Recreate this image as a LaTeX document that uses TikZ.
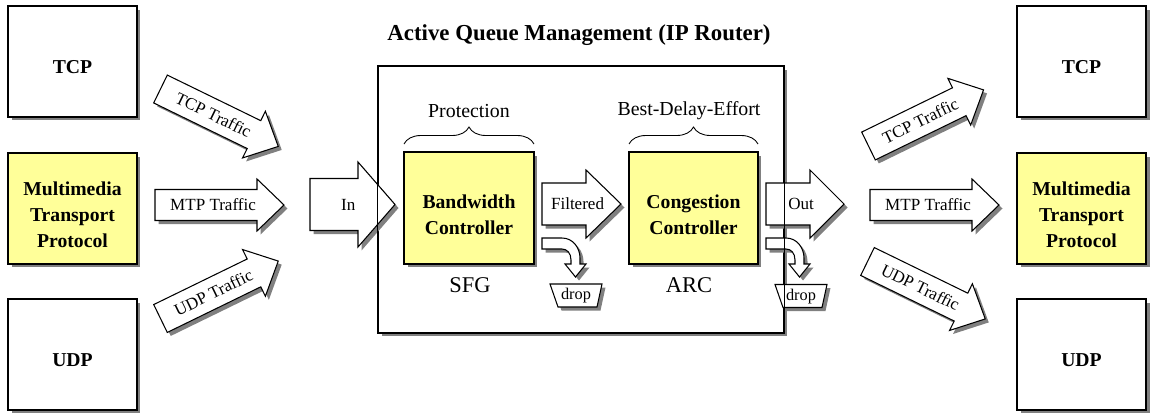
\documentclass[tikz,border=0pt]{standalone}
\usepackage{fontspec}
\setmainfont{Liberation Serif}
\usetikzlibrary{shadows,decorations.pathreplacing}

\definecolor{ctrlyellow}{RGB}{255,255,153}

\tikzset{
  shade/.style={drop shadow={shadow xshift=0.07cm, shadow yshift=-0.07cm, fill=black!50, opacity=1}},
  protobox/.style={draw, line width=0.75pt, fill=white, shade, minimum width=2.58cm, minimum height=2.22cm, inner sep=0pt},
  ctrlbox/.style={protobox, fill=ctrlyellow},
  boxtext/.style={font=\fontsize{11.2}{14.8}\selectfont\bfseries, align=center, inner sep=0pt},
  arrowshape/.style={draw, line width=0.6pt, fill=white, line join=miter, shade},
  arrowtext/.style={font=\fontsize{9.7}{11}\selectfont, inner sep=0pt},
  bracetext/.style={font=\fontsize{11.3}{13}\selectfont, inner sep=0pt},
  algtext/.style={font=\fontsize{12.8}{15}\selectfont, inner sep=0pt},
  droptext/.style={font=\fontsize{9.3}{11}\selectfont, inner sep=0pt},
  pics/blockarrow/.style n args={5}{code={
    \draw[arrowshape] (0,{-#2/2}) -- ({#1-#4},{-#2/2}) -- ({#1-#4},{-#3/2}) -- (#1,0)
      -- ({#1-#4},{#3/2}) -- ({#1-#4},{#2/2}) -- (0,{#2/2}) -- cycle;
    \node[arrowtext, transform shape] (-text) at ({0.45*#1},0) {#5};
  }},
  pics/droparrow/.style={code={
    \draw[arrowshape] (0,0) -- (20,0) .. controls (31,0) and (38,10) .. (38,20) -- (38,26)
      -- (44,26) -- (33.5,39) -- (23,26) -- (29,26) -- (29,22)
      .. controls (29,15) and (25,11) .. (20,11) -- (0,11) -- cycle;
  }},
  pics/dropbin/.style={code={
    \draw[arrowshape] (-26,-11.5) -- (26,-11.5) -- (21,11.5) -- (-18,11.5) -- cycle;
    \node[droptext] (-text) at (0,0.5) {drop};
  }},
}

\begin{document}
\begin{tikzpicture}[x=0.02cm, y=-0.02cm]
  \useasboundingbox (0,0) rectangle (1153,413);

  % sources
  \node[protobox] (tcpL) at (72.5,61.5) {};
  \node[ctrlbox] (mtpL) at (72.5,208.5) {};
  \node[protobox] (udpL) at (72.5,354.5) {};
  \node[boxtext] (tcpLt) at ([yshift=-0.12cm]tcpL.center) {TCP};
  \node[boxtext] (mtpLt) at ([yshift=-0.12cm]mtpL.center) {Multimedia\\Transport\\Protocol};
  \node[boxtext] (udpLt) at ([yshift=-0.12cm]udpL.center) {UDP};

  % sinks
  \node[protobox] (tcpR) at (1081.5,61.5) {};
  \node[ctrlbox] (mtpR) at (1081.5,208.5) {};
  \node[protobox] (udpR) at (1081.5,354.5) {};
  \node[boxtext] (tcpRt) at ([yshift=-0.12cm]tcpR.center) {TCP};
  \node[boxtext] (mtpRt) at ([yshift=-0.12cm]mtpR.center) {Multimedia\\Transport\\Protocol};
  \node[boxtext] (udpRt) at ([yshift=-0.12cm]udpR.center) {UDP};

  % router
  \node[font=\fontsize{13}{15}\selectfont\bfseries, inner sep=0pt] (title) at (579,35) {Active Queue Management (IP Router)};
  \node[draw, line width=0.75pt, fill=white, shade, minimum width=8.12cm, minimum height=5.34cm, inner sep=0pt] (aqm) at (581,199.5) {};

  \node[ctrlbox, minimum width=2.6cm, minimum height=2.24cm] (sfg) at (469,208) {};
  \node[ctrlbox, minimum width=2.58cm, minimum height=2.24cm] (arc) at (693.5,208) {};
  \node[boxtext] (sfgt) at ([yshift=-0.14cm]sfg.center) {Bandwidth\\Controller};
  \node[boxtext] (arct) at ([yshift=-0.14cm]arc.center) {Congestion\\Controller};

  \draw[line width=0.5pt, decorate, decoration={brace, amplitude=0.34cm}] (404,144) -- (534,144);
  \draw[line width=0.5pt, decorate, decoration={brace, amplitude=0.34cm}] (629,144) -- (758,144);
  \node[bracetext] (prot) at (469,111) {Protection};
  \node[bracetext] (bde) at (689,111) {Best-Delay-Effort};
  \node[algtext] (sfgn) at (470,285) {SFG};
  \node[algtext] (arcn) at (689,285) {ARC};

  % traffic
  \pic[rotate=-26] (tcpin) at (160.5,89) {blockarrow={131}{31}{52}{27}{TCP Traffic}};
  \pic (mtpin) at (155,205) {blockarrow={129}{31}{52}{27}{MTP Traffic}};
  \pic[rotate=26] (udpin) at (160.5,318.5) {blockarrow={131}{31}{52}{27}{UDP Traffic}};

  \pic (in) at (310,204.5) {blockarrow={85}{52}{85}{37}{In}};
  \pic (filt) at (542,204) {blockarrow={79}{42}{68}{35}{Filtered}};
  \pic (out) at (766,204) {blockarrow={78}{42}{68}{34}{Out}};

  \pic[rotate=26] (tcpout) at (868.5,146) {blockarrow={128}{31}{52}{27}{TCP Traffic}};
  \pic (mtpout) at (870,205) {blockarrow={129}{31}{52}{27}{MTP Traffic}};
  \pic[rotate=-26] (udpout) at (867.5,261.5) {blockarrow={131}{31}{52}{27}{UDP Traffic}};

  % drops
  \pic (drop1) at (542,238) {droparrow};
  \pic (drop2) at (766,238) {droparrow};
  \pic (bin1) at (576,295.5) {dropbin};
  \pic (bin2) at (801,296) {dropbin};

  \draw[line width=0.75pt] (aqm.north west) rectangle (aqm.south east);
\end{tikzpicture}
\end{document}
